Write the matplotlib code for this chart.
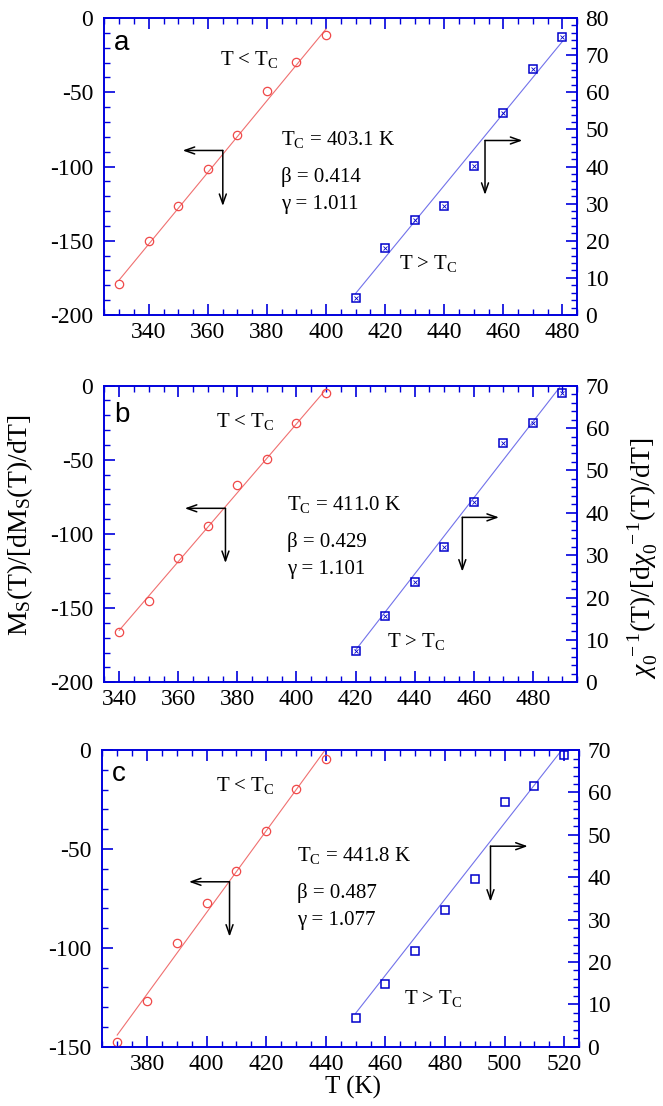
import matplotlib
matplotlib.use("Agg")
import matplotlib.pyplot as plt
from matplotlib.ticker import MultipleLocator

plt.rcParams['font.family'] = ['Liberation Serif', 'DejaVu Serif']
plt.rcParams['mathtext.fontset'] = 'custom'
plt.rcParams['mathtext.rm'] = 'Liberation Serif'
plt.rcParams['mathtext.it'] = 'Liberation Serif:italic'
plt.rcParams['mathtext.bf'] = 'Liberation Serif:bold'
plt.rcParams['axes.unicode_minus'] = False

# ---------------- data ----------------
# panel a
a_T_low = [330, 340, 350, 360, 370, 380, 390, 400]
a_M_low = [-179.1, -149.9, -126.7, -102.0, -78.7, -49.2, -29.7, -11.5]
a_fit_low_T = [330, 400]
a_fit_low_M = [-176.4, -7.4]
a_T_high = [410, 420, 430, 440, 450, 460, 470, 480]
a_chi_high = [4.5, 18.0, 25.5, 29.4, 40.1, 54.5, 66.3, 74.9]
a_fit_high_T = [410, 480]
a_fit_high_chi = [5.8, 73.7]

# panel b
b_T_low = [340, 350, 360, 370, 380, 390, 400, 410]
b_M_low = [-166.3, -145.2, -116.4, -94.8, -67.2, -49.4, -24.9, -4.7]
b_fit_low_T = [340, 410]
b_fit_low_M = [-165.0, -2.5]
b_T_high = [420, 430, 440, 450, 460, 470, 480, 490]
b_chi_high = [7.3, 15.6, 23.7, 31.9, 42.6, 56.4, 61.1, 68.2]
b_fit_high_T = [420, 489.5]
b_fit_high_chi = [7.6, 70.0]

# panel c
c_T_low = [370, 380, 390, 400, 410, 420, 430, 440]
c_M_low = [-147.8, -126.9, -97.4, -77.5, -61.0, -41.1, -19.9, -4.4]
c_fit_low_T = [370, 439.6]
c_fit_low_M = [-144.1, -0.3]
c_T_high = [450, 460, 470, 480, 490, 500, 510, 520]
c_chi_high = [6.7, 14.7, 22.7, 32.2, 39.5, 57.7, 61.5, 68.8]
c_fit_high_T = [450, 518.7]
c_fit_high_chi = [7.9, 69.6]

panel_letters = ['a', 'b', 'c']
Tc_texts = ['403.1', '411.0', '441.8']
beta_texts = ['0.414', '0.429', '0.487']
gamma_texts = ['1.011', '1.101', '1.077']
xlims = [(325, 485), (335, 495), (365, 525)]
xticks = [list(range(340, 481, 20)), list(range(340, 481, 20)), list(range(380, 521, 20))]
left_ylims = [(-200, 0), (-200, 0), (-150, 0)]
right_ylims = [(0, 80), (0, 70), (0, 70)]

RED = '#F04848'
RED_LINE = '#F07070'
BLUE = '#0000CC'
BLUE_LINE = '#7272EA'
SPINE = '#0000DD'

fig = plt.figure(figsize=(6.63, 11.06), dpi=100)
positions = [
    [0.1575, 0.7152, 0.7131, 0.2685],
    [0.1575, 0.3831, 0.7131, 0.2682],
    [0.1543, 0.0536, 0.7193, 0.2682],
]

panels = [
    (a_T_low, a_M_low, a_fit_low_T, a_fit_low_M, a_T_high, a_chi_high, a_fit_high_T, a_fit_high_chi),
    (b_T_low, b_M_low, b_fit_low_T, b_fit_low_M, b_T_high, b_chi_high, b_fit_high_T, b_fit_high_chi),
    (c_T_low, c_M_low, c_fit_low_T, c_fit_low_M, c_T_high, c_chi_high, c_fit_high_T, c_fit_high_chi),
]

# text / arrow positions in axes fraction
lab_low = [(0.244, 0.86), (0.235, 0.879), (0.238, 0.882)]
lab_high = [(0.624, 0.174), (0.597, 0.137), (0.632, 0.163)]
param_pos = [(0.374, 0.59, 0.463, 0.373), (0.387, 0.598, 0.472, 0.379), (0.409, 0.646, 0.519, 0.427)]
arrow_left = [(0.2504, 0.554, 0.1655, 0.367), (0.256, 0.5865, 0.170, 0.402), (0.2668, 0.556, 0.1817, 0.371)]
arrow_right = [(0.805, 0.5876, 0.884, 0.4045), (0.757, 0.556, 0.8345, 0.373), (0.814, 0.676, 0.892, 0.489)]
letter_y = [0.916, 0.901, 0.921]

TICKFS = 17
TEXTFS = 15
ARROW = dict(arrowstyle='->,head_length=0.7,head_width=0.25', lw=1.1, color='black',
             shrinkA=0, shrinkB=0)

for i, pos in enumerate(positions):
    Tl, Ml, fTl, fMl, Th, Ch, fTh, fCh = panels[i]
    ax = fig.add_axes(pos)
    ax2 = ax.twinx()

    ax.plot(fTl, fMl, '-', color=RED_LINE, lw=0.8, zorder=2)
    ax.plot(Tl, Ml, 'o', ms=6.0, mfc='none', mec=RED, mew=0.9, zorder=3)

    ax2.plot(fTh, fCh, '-', color=BLUE_LINE, lw=0.8, zorder=2)
    ax2.plot(Th, Ch, 's', ms=5.4, mfc='none', mec=BLUE, mew=1.1, zorder=3)
    if i < 2:
        ax2.plot(Th, Ch, 'x', ms=3.4, color=BLUE, mew=0.6, zorder=3)

    ax.set_xlim(*xlims[i])
    ax.set_ylim(*left_ylims[i])
    ax2.set_ylim(*right_ylims[i])
    ax.set_xticks(xticks[i])
    ax.xaxis.set_minor_locator(MultipleLocator(5))
    ax.yaxis.set_major_locator(MultipleLocator(50))
    ax.yaxis.set_minor_locator(MultipleLocator(10))
    ax2.yaxis.set_major_locator(MultipleLocator(10))
    ax2.yaxis.set_minor_locator(MultipleLocator(2))

    ax.tick_params(axis='x', which='both', direction='in', top=True, bottom=True,
                   colors=SPINE, labelcolor='black', labelsize=TICKFS, pad=5)
    ax.tick_params(axis='y', which='both', direction='in', left=True, right=False,
                   colors=SPINE, labelcolor='black', labelsize=TICKFS, pad=8)
    ax2.tick_params(axis='y', which='both', direction='in', left=False, right=True,
                    colors=SPINE, labelcolor='black', labelsize=TICKFS, pad=6)
    for a in (ax, ax2):
        a.tick_params(which='major', length=8, width=1.2)
        a.tick_params(which='minor', length=4, width=1.0)
        for s in a.spines.values():
            s.set_color(SPINE)
            s.set_linewidth(1.2)

    ax.text(0.02, letter_y[i], panel_letters[i], transform=ax.transAxes,
            fontsize=20, family=['Liberation Sans', 'DejaVu Sans'], va='center', ha='left')
    ax.text(lab_low[i][0], lab_low[i][1], r'T < T$_{\rm C}$', transform=ax.transAxes,
            fontsize=TEXTFS, va='center', ha='left')
    ax.text(lab_high[i][0], lab_high[i][1], r'T > T$_{\rm C}$', transform=ax.transAxes,
            fontsize=TEXTFS, va='center', ha='left')
    px, py1, py2, py3 = param_pos[i]
    ax.text(px, py1, r'T$_{\rm C}$ = ' + Tc_texts[i] + ' K', transform=ax.transAxes,
            fontsize=TEXTFS, va='center', ha='left')
    ax.text(px, py2, '\u03b2 = ' + beta_texts[i], transform=ax.transAxes,
            fontsize=TEXTFS, va='center', ha='left')
    ax.text(px, py3, '\u03b3 = ' + gamma_texts[i], transform=ax.transAxes,
            fontsize=TEXTFS, va='center', ha='left')

    for (cx, cy, ex, ey) in (arrow_left[i], arrow_right[i]):
        ax.annotate('', xy=(ex, cy), xytext=(cx, cy), xycoords='axes fraction',
                    arrowprops=ARROW)
        ax.annotate('', xy=(cx, ey), xytext=(cx, cy), xycoords='axes fraction',
                    arrowprops=ARROW)

    if i == 2:
        ax.set_xlabel('T (K)', fontsize=18, labelpad=0)
        ax.xaxis.set_label_coords(0.526, -0.10)

fig.text(0.030, 0.525, r'M$_{\rm S}$(T)/[dM$_{\rm S}$(T)/dT]', rotation=90,
         fontsize=20, va='center', ha='center')
fig.text(0.970, 0.495, r'$\chi_0^{\ -1}$(T)/[d$\chi_0^{\ -1}$(T)/dT]', rotation=90,
         fontsize=20, va='center', ha='center')

fig.savefig('out.png', dpi=100)
